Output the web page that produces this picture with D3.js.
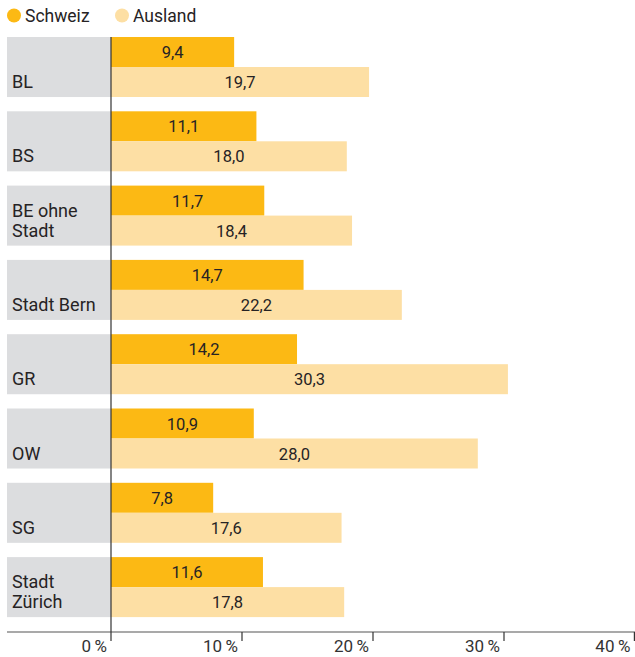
<!DOCTYPE html>
<html>
<head>
<meta charset="utf-8">
<script src="https://cdn.jsdelivr.net/npm/d3@7"></script>
<style>
  html, body { margin: 0; padding: 0; background: #fff; }
  svg { display: block; font-family: Roboto, "Open Sans", sans-serif; }
</style>
</head>
<body>
<svg id="chart" width="635" height="657"></svg>
<script>
// Regions (multi-line labels split on "\n")
const categories = ["BL", "BS", "BE ohne\nStadt", "Stadt Bern", "GR", "OW", "SG", "Stadt\nZürich"];
const schweiz = [9.4, 11.1, 11.7, 14.7, 14.2, 10.9, 7.8, 11.6];
const ausland = [19.7, 18.0, 18.4, 22.2, 30.3, 28.0, 17.6, 17.8];
const seriesNames = ["Schweiz", "Ausland"];
const tickValues = [0, 10, 20, 30, 40];

const colors = { Schweiz: "#FCB914", Ausland: "#FDDFA4", box: "#DCDDDF", ink: "#262324", axis: "#555" };

const svg = d3.select("#chart");
const x0 = 111, x1 = 635, boxLeft = 7;
const x = d3.scaleLinear().domain([0, 40]).range([x0, x1]);

// 8 groups, step ≈ 74.3 px, each 60 px tall
const y = d3.scaleBand()
  .domain(d3.range(categories.length))
  .range([37, 37 + 74.3 * categories.length])
  .paddingInner(0.192).paddingOuter(0.096).align(0);
// inner split of each group into the two series
const ySub = d3.scaleBand().domain(seriesNames).range([0, 60]);

const fmt = v => d3.format(".1f")(v).replace(".", ",");

const groups = svg.selectAll("g.group").data(categories).join("g")
  .attr("class", "group")
  .attr("transform", (d, i) => `translate(0,${y(i)})`);

groups.append("rect")
  .attr("x", boxLeft).attr("y", 0)
  .attr("width", x0 - boxLeft).attr("height", y.bandwidth())
  .attr("fill", colors.box);

groups.each(function (d, i) {
  const g = d3.select(this);
  const vals = { Schweiz: schweiz[i], Ausland: ausland[i] };
  seriesNames.forEach(s => {
    g.append("rect")
      .attr("x", x(0)).attr("y", ySub(s))
      .attr("width", x(vals[s]) - x(0)).attr("height", ySub.bandwidth())
      .attr("fill", colors[s]);
    g.append("text")
      .attr("x", (x(0) + x(vals[s])) / 2)
      .attr("y", ySub(s) + ySub.bandwidth() / 2 + 6)
      .attr("text-anchor", "middle")
      .attr("font-size", 16.5)
      .attr("fill", colors.ink)
      .text(fmt(vals[s]));
  });
  const lines = d.split("\n");
  const t = g.append("text")
    .attr("x", 12)
    .attr("font-size", 18)
    .attr("fill", colors.ink);
  lines.forEach((ln, k) => {
    t.append("tspan")
      .attr("x", 12)
      .attr("y", 51 - (lines.length - 1 - k) * 20)
      .text(ln);
  });
});

// Bottom axis
const axisY = 632;
svg.append("line")
  .attr("x1", boxLeft).attr("x2", x1)
  .attr("y1", axisY).attr("y2", axisY)
  .attr("stroke", colors.axis).attr("stroke-width", 1.2);

svg.append("line")
  .attr("x1", x(0)).attr("x2", x(0))
  .attr("y1", 37).attr("y2", 641)
  .attr("stroke", "#333").attr("stroke-width", 1.2);

tickValues.forEach(v => {
  const tx = Math.min(x(v), x1 - 0.6);
  if (v > 0) {
    svg.append("line")
      .attr("x1", tx).attr("x2", tx)
      .attr("y1", axisY).attr("y2", 641)
      .attr("stroke", "#333").attr("stroke-width", 1.2);
  }
  svg.append("text")
    .attr("x", tx - 4).attr("y", 652)
    .attr("text-anchor", "end")
    .attr("font-size", 17)
    .attr("fill", "#333")
    .text(v + "\u2009%");
});

// Legend
const legendX = [14, 122];
seriesNames.forEach((s, i) => {
  svg.append("circle")
    .attr("cx", legendX[i]).attr("cy", 15.5).attr("r", 7)
    .attr("fill", colors[s]);
  svg.append("text")
    .attr("x", legendX[i] + 11).attr("y", 22)
    .attr("font-size", 17.5)
    .attr("fill", colors.ink)
    .text(s);
});
</script>
</body>
</html>
